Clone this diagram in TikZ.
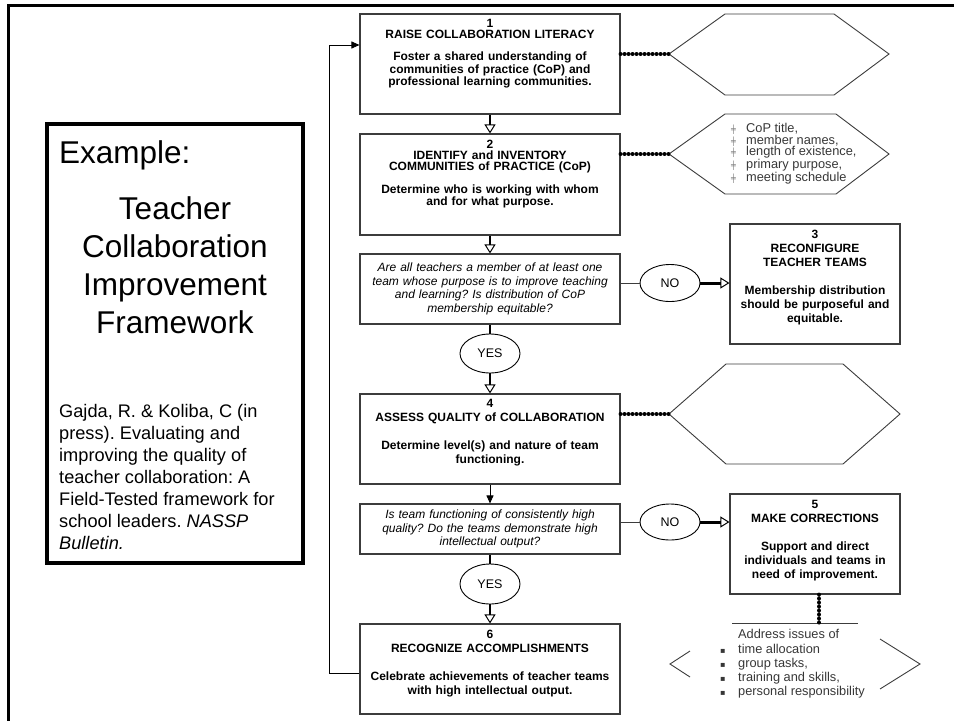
\documentclass[tikz,border=0pt]{standalone}
\usepackage{fontspec}
\setmainfont{Liberation Sans}
\newfontfamily\symfont{DejaVu Sans}
\usepackage{tikz}
\usetikzlibrary{positioning,arrows.meta,shapes.geometric}
\definecolor{boxgray}{RGB}{60,60,60}
\definecolor{listgray}{RGB}{55,55,55}
\newcommand{\hexmark}{\makebox[15pt][l]{\color{gray}\symfont\fontsize{8}{8}\selectfont ╪}}
\newcommand{\sqmark}{\makebox[18pt][l]{\symfont\fontsize{8}{8}\selectfont ▪}}
\frenchspacing
\tikzset{
		stepBox/.style = 	{draw=boxgray, line width=1.1pt, minimum width=260pt, inner sep=0pt},
		stepText/.style = 	{inner sep=0pt, align=center, text width=290pt, font=\bfseries\fontsize{12}{11}\selectfont},
		stepTextWide/.style = 	{stepText, font=\bfseries\fontsize{12}{14}\selectfont},
		questionBox/.style = 	{draw=boxgray, line width=1.1pt, minimum width=260pt, inner sep=0pt, align=center, text width=256pt, font=\itshape\fontsize{12}{13.7}\selectfont},
		answerOval/.style = 	{ellipse, draw, line width=0.9pt, minimum width=60pt, minimum height=38pt, inner sep=0pt, font=\fontsize{12.5}{12.5}\selectfont},
		flowArrow/.style = 	{line width=2pt, -{Triangle[open, length=9pt, width=11pt, line width=1pt]}},
		thinArrow/.style = 	{line width=0.9pt, -{Triangle[length=8pt, width=7pt]}},
		noArrow/.style = 	{line width=3pt, -{Triangle[open, length=9pt, width=11pt, line width=1pt]}},
		plainLink/.style = 	{line width=2pt},
		sideLink/.style = 	{line width=0.9pt, draw=boxgray},
		dotLink/.style = 	{line width=4pt, line cap=round, dash pattern=on 0pt off 4pt},
		hexLine/.style = 	{line width=0.9pt, draw=boxgray},
		listText/.style = 	{inner sep=0pt, align=left, text=listgray}
}

\begin{document}
\begin{tikzpicture}[x=1pt, y=-1pt]
  \useasboundingbox (0,0) rectangle (954,721);
  \draw[line width=3pt] (954,5) -- (8,5) -- (8,721);

  \node[draw, line width=4pt, minimum width=256pt, minimum height=439pt] (frame) at (175,343.5) {};
  \node[anchor=base west, inner sep=0pt, font=\fontsize{31.5}{38}\selectfont] (example) at (59,163) {Example:};
  \node[anchor=north, inner sep=0pt, align=center, font=\fontsize{31.5}{38}\selectfont] (title) at (175,196)
     {Teacher\\Collaboration\\Improvement\\Framework};
  \node[anchor=north west, inner sep=0pt, align=left, font=\fontsize{18.2}{22}\selectfont] (source) at (59,404.5)
     {Gajda, R. \& Koliba, C (in\\press). Evaluating and\\improving the quality of\\teacher collaboration: A\\Field-Tested framework for\\school leaders. \textit{NASSP}\\\textit{Bulletin.}};

  \node[stepBox, minimum height=100pt] (b1) at (490,64) {};
  \node[stepText, below=6pt of b1.north] (t1)
     {1\\RAISE COLLABORATION LITERACY\\[11pt]Foster a shared understanding of\\communities of practice (CoP) and\\professional learning communities.};
  \node[stepBox, minimum height=101pt] (b2) at (490,184.5) {};
  \node[stepText, below=6pt of b2.north] (t2)
     {2\\IDENTIFY and INVENTORY\\COMMUNITIES of PRACTICE (CoP)\\[11pt]Determine who is working with whom\\and for what purpose.};
  \node[questionBox, minimum height=70pt] (d1) at (490,289)
     {Are all teachers a member of at least one\\team whose purpose is to improve teaching\\and learning? Is distribution of CoP\\membership equitable?};
  \node[answerOval, minimum height=39pt] (yes1) at (490,353.5) {YES};
  \node[stepBox, minimum height=90pt] (b4) at (490,439) {};
  \node[stepTextWide, below=6pt of b4.north] (t4)
     {4\\ASSESS QUALITY of COLLABORATION\\[14pt]Determine level(s) and nature of team\\functioning.};
  \node[questionBox, minimum height=50pt] (d2) at (490,529)
     {Is team functioning of consistently high\\quality? Do the teams demonstrate high\\intellectual output?};
  \node[answerOval, minimum height=40pt] (yes2) at (490,584) {YES};
  \node[stepBox, minimum height=90pt] (b6) at (490,669) {};
  \node[stepTextWide, below=6pt of b6.north] (t6)
     {6\\RECOGNIZE ACCOMPLISHMENTS\\[14pt]Celebrate achievements of teacher teams\\with high intellectual output.};

  \node[answerOval, minimum height=37pt] (no1) at (670,283) {NO};
  \node[stepBox, minimum width=170pt, minimum height=120pt] (b3) at (815,284) {};
  \node[stepTextWide, text width=180pt, below=6.5pt of b3.north] (t3)
     {3\\RECONFIGURE\\TEACHER TEAMS\\[14pt]Membership distribution\\should be purposeful and\\equitable.};
  \node[answerOval, minimum height=36pt] (no2) at (670,522) {NO};
  \node[stepBox, minimum width=170pt, minimum height=100pt] (b5) at (815,544) {};
  \node[stepTextWide, text width=180pt, below=6.5pt of b5.north] (t5)
     {5\\MAKE CORRECTIONS\\[14pt]Support and direct\\individuals and teams in\\need of improvement.};

  \coordinate (hex1w) at (669,54);
  \coordinate (hex2w) at (669,154);
  \coordinate (hex3w) at (669,414);
  \draw[hexLine] (hex1w) -- (725,14) -- (834,14) -- (889,54) -- (834,95) -- (725,95) -- cycle;
  \draw[hexLine] (hex2w) -- (725,114) -- (836,114) -- (889,154) -- (836,194) -- (725,194) -- cycle;
  \draw[hexLine] (hex3w) -- (726,364) -- (843,364) -- (900,414) -- (843,464) -- (726,464) -- cycle;
  \node[listText, anchor=north west, font=\fontsize{12.8}{11.7}\selectfont] (facts) at (731,123)
     {\hexmark CoP title,\\\hexmark member names,\\\hexmark length of existence,\\\hexmark primary purpose,\\\hexmark meeting schedule};

  \coordinate (barL) at (732,623);
  \coordinate (barR) at (858,623);
  \coordinate (barTop) at (819,623);
  \draw[sideLink, line width=0.7pt] (barL) -- (barR);
  \draw[hexLine] (690,651) -- (670,664) -- (690,677);
  \draw[hexLine] (880,639) -- (920,664) -- (880,689);
  \node[listText, anchor=north west, font=\fontsize{12.8}{14}\selectfont] (issues) at (720,629.5)
     {\makebox[18pt]{}Address issues of\\[1pt]\sqmark time allocation\\\sqmark group tasks,\\\sqmark training and skills,\\\sqmark personal responsibility};

  \draw[flowArrow] (b1) -- (b2);
  \draw[flowArrow] (b2) -- (d1);
  \draw[plainLink] (d1) -- (yes1);
  \draw[flowArrow] (yes1) -- (b4);
  \draw[thinArrow] (b4) -- (d2);
  \draw[plainLink] (d2) -- (yes2);
  \draw[flowArrow] (yes2) -- (b6);
  \draw[thinArrow] ([yshift=-4pt]b6.west) -- ++(-30,0) |- ([yshift=19pt]b1.west);

  \draw[sideLink] (d1.east |- no1) -- (no1);
  \draw[noArrow] (no1) -- (no1 -| b3.west);
  \draw[sideLink] (d2.east |- no2) -- (no2);
  \draw[noArrow] (no2) -- (no2 -| b5.west);

  \draw[dotLink] (b1.east |- hex1w) -- (hex1w);
  \draw[dotLink] (b2.east |- hex2w) -- (hex2w);
  \draw[dotLink] (b4.east |- hex3w) -- (hex3w);
  \draw[dotLink] (b5.south -| barTop) -- (barTop);
\end{tikzpicture}
\end{document}
